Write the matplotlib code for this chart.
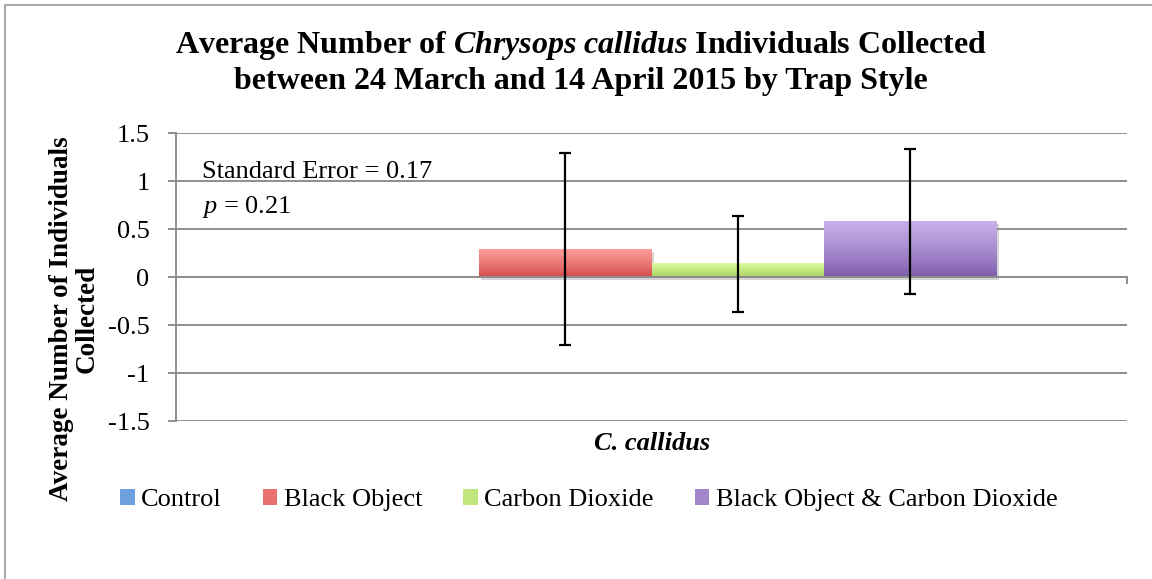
import numpy as np
import matplotlib
matplotlib.use("Agg")
import matplotlib.pyplot as plt
import matplotlib.patheffects as pe
from matplotlib.colors import LinearSegmentedColormap
from matplotlib.patches import Patch
from matplotlib.lines import Line2D

plt.rcParams["font.family"] = "Liberation Serif"
plt.rcParams["mathtext.fontset"] = "custom"
plt.rcParams["mathtext.rm"] = "Liberation Serif"
plt.rcParams["mathtext.it"] = "Liberation Serif:italic"
plt.rcParams["mathtext.bf"] = "Liberation Serif:bold"
plt.rcParams["mathtext.bfit"] = "Liberation Serif:bold:italic"

# data
category = "C. callidus"
traps = ["Control", "Black Object", "Carbon Dioxide", "Black Object & Carbon Dioxide"]
means = [0.0, 0.29, 0.14, 0.58]
errors = [0.0, 1.0, 0.5, 0.755]
yticks = [-1.5, -1, -0.5, 0, 0.5, 1, 1.5]
ytick_labels = ["-1.5", "-1", "-0.5", "0", "0.5", "1", "1.5"]

# (top, bottom) gradient colours per trap
grads = [("#9fc5f6", "#3d78c6"), ("#ff9c9a", "#d24846"),
         ("#dcfca0", "#a6cf5c"), ("#c9b0ec", "#7c5aa8")]

W, H = 1152, 579
fig = plt.figure(figsize=(W / 100, H / 100), dpi=100, facecolor="white")


def px(x, y):
    return x / W, 1 - y / H


ax = fig.add_axes([176 / W, 1 - 421 / H, (1127 - 176) / W, (421 - 133) / H])

GRID = "#8e8e8e"
bw = 0.1815
xs = (np.arange(len(traps)) - 1.5) * bw
bars = ax.bar(xs, means, width=bw, color=[g[1] for g in grads], zorder=3,
              path_effects=[pe.SimplePatchShadow(offset=(1.5, -2), shadow_rgbFace="#777777", alpha=0.3),
                            pe.Normal()])
for rect, (top, bot) in zip(bars, grads):
    h = rect.get_height()
    if h <= 0:
        continue
    cmap = LinearSegmentedColormap.from_list("g", [bot, top])
    x0 = rect.get_x()
    ax.imshow(np.linspace(1, 0, 64).reshape(-1, 1) ** 0.8, cmap=cmap, aspect="auto",
              extent=[x0, x0 + rect.get_width(), 0, h], zorder=3.5, interpolation="bicubic")

ax.errorbar(xs[1:], means[1:], yerr=errors[1:], fmt="none", ecolor="black",
            elinewidth=1.6, capsize=4.5, capthick=1.6, zorder=6)

ax.set_xlim(-0.5, 0.5)
ax.set_ylim(-1.5, 1.5)
ax.set_yticks(yticks, ytick_labels)
ax.set_xticks([-0.5, 0.5], ["", ""])
ax.yaxis.grid(True, color=GRID, lw=1.4)
ax.set_axisbelow(True)
for s in ["top", "right"]:
    ax.spines[s].set_visible(False)
ax.spines["bottom"].set_position(("data", 0))
ax.spines["bottom"].set_zorder(4)
for s in ["left", "bottom"]:
    ax.spines[s].set_color(GRID)
    ax.spines[s].set_linewidth(1.4)
ax.tick_params(axis="y", length=6, width=1.4, color=GRID, labelsize=19, pad=13)
ax.tick_params(axis="x", length=5, width=1.4, color=GRID, direction="out")

# annotation
fig.text(*px(202, 172), "Standard Error = 0.17", fontsize=19, va="center", ha="left")
fig.text(*px(202, 207), "$p$ = 0.21", fontsize=19, va="center", ha="left")

# x category label
fig.text(*px(652, 443), category, fontsize=19, fontweight="bold", fontstyle="italic",
         ha="center", va="center")

# y label
fig.text(*px(74, 319), "Average Number of Individuals\nCollected", fontsize=19.5,
         fontweight="bold", rotation=90, ha="center", va="center",
         multialignment="center", linespacing=1.05)

# title
fig.text(*px(581, 46), r"Average Number of $\mathbfit{Chrysops\ callidus}$ Individuals Collected",
         fontsize=23, fontweight="bold", ha="center", va="center")
fig.text(*px(581, 81), "between 24 March and 14 April 2015 by Trap Style",
         fontsize=23, fontweight="bold", ha="center", va="center")

# legend
handles = [Patch(facecolor=((int(t[1:3], 16) + int(b[1:3], 16)) / 510,
                            (int(t[3:5], 16) + int(b[3:5], 16)) / 510,
                            (int(t[5:7], 16) + int(b[5:7], 16)) / 510), edgecolor="none")
           for t, b in grads]
fig.legend(handles, traps, loc="center left", bbox_to_anchor=px(120, 500), ncol=4,
           frameon=False, fontsize=19, handlelength=0.55, handleheight=0.55,
           handletextpad=0.25, columnspacing=1.55, borderpad=0, borderaxespad=0)

# outer chart border (top and left visible)
fig.add_artist(Line2D([5 / W, 1], [1 - 5 / H, 1 - 5 / H], color="#aaaaaa", lw=1.5))
fig.add_artist(Line2D([5 / W, 5 / W], [0, 1 - 5 / H], color="#aaaaaa", lw=1.5))

fig.savefig("out.png", dpi=100, facecolor="white")
